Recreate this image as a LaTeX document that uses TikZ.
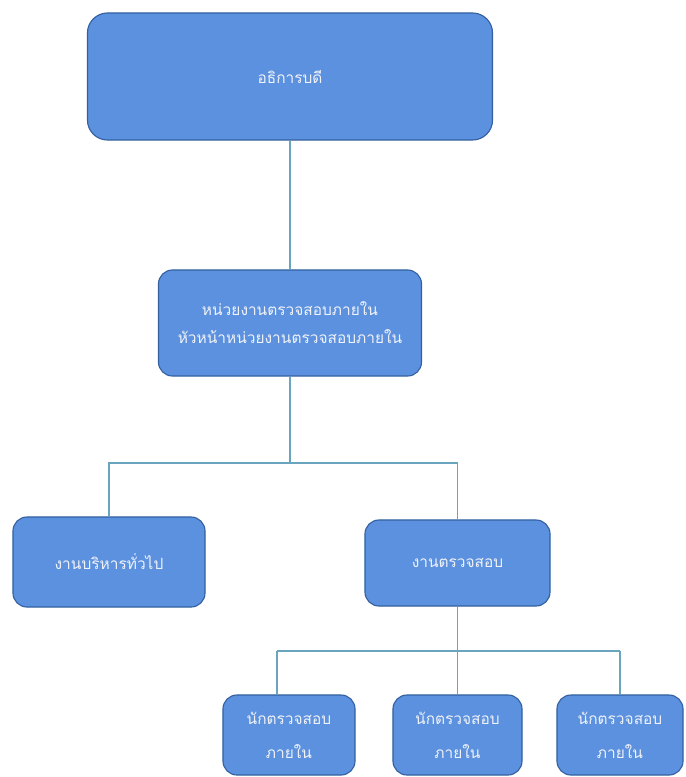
\documentclass[tikz,border=0pt]{standalone}
\usepackage{fontspec}
\newfontfamily\thaifont[Script=Thai]{Loma}
\usepackage{tikz}
\usetikzlibrary{positioning}
\definecolor{boxfill}{RGB}{91,145,222}
\definecolor{boxline}{RGB}{52,96,160}
\definecolor{linkcol}{RGB}{105,165,190}
\definecolor{txtcol}{RGB}{240,242,248}

\begin{document}
\begin{tikzpicture}[x=0.025cm, y=-0.025cm,
  unitbox/.style={draw=boxline, line width=0.8pt, fill=boxfill, rounded corners=0.35cm, inner sep=0pt, align=center, text=txtcol, font=\thaifont\fontsize{11}{20}\selectfont},
  staffbox/.style={unitbox, font=\thaifont\fontsize{11}{24}\selectfont, minimum height=2cm},
  link/.style={draw=linkcol, line width=0.8pt}]
  \useasboundingbox (0,0) rectangle (685,777);
  \node[unitbox, rounded corners=0.5cm, minimum width=10.125cm, minimum height=3.175cm] (dean) at (290,76.5) {อธิการบดี};
  \node[unitbox, minimum width=6.575cm, minimum height=2.65cm] (unit) at (290,323) {หน่วยงานตรวจสอบภายใน\\หัวหน้าหน่วยงานตรวจสอบภายใน};
  \node[unitbox, minimum width=4.8cm, minimum height=2.25cm] (admin) at (109,562) {งานบริหารทั่วไป};
  \node[unitbox, minimum width=4.625cm, minimum height=2.15cm] (audit) at (457.5,563) {งานตรวจสอบ};
  \node[staffbox, minimum width=3.3cm] (ia1) at (289,735) {นักตรวจสอบ\\ภายใน};
  \node[staffbox, minimum width=3.225cm] (ia2) at (457.5,735) {นักตรวจสอบ\\ภายใน};
  \node[staffbox, minimum width=3.15cm] (ia3) at (620,735) {นักตรวจสอบ\\ภายใน};
  \coordinate (hub) at (unit.south |- 0,463);
  \coordinate (barL) at (277,651);
  \coordinate (barR) at (ia3.north |- barL);
  \path[link]
  (dean) -- (unit)
  (unit) -- (hub)
  (hub) -| (admin)
  (hub) -| (audit)
  (audit) -- (ia2)
  (barL) -- (barR)
  (barL) -- (barL |- ia1.north)
  (barR) -- (ia3)
  ;
\end{tikzpicture}
\end{document}
